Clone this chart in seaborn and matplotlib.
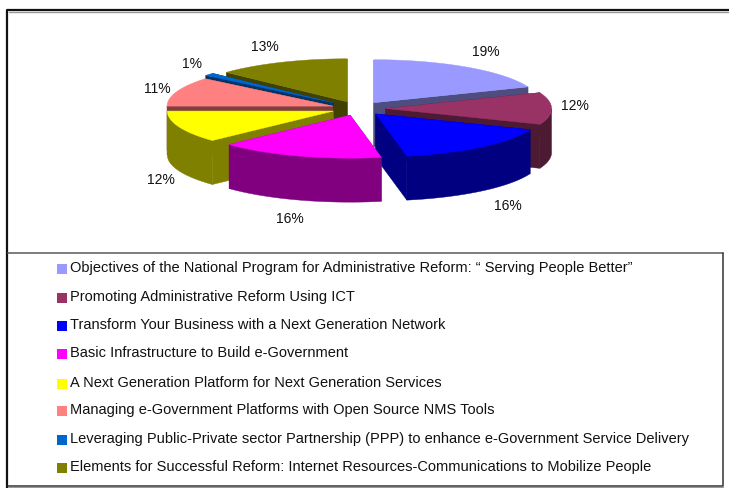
import numpy as np
import matplotlib
matplotlib.use("Agg")
import matplotlib.pyplot as plt
from matplotlib.patches import Polygon, Rectangle
import seaborn as sns

labels = [
    "Objectives of the National Program for Administrative Reform: \u201c Serving People Better\u201d",
    "Promoting Administrative Reform Using ICT",
    "Transform Your Business with a Next Generation Network",
    "Basic Infrastructure to Build e-Government",
    "A Next Generation Platform for Next Generation Services",
    "Managing e-Government Platforms with Open Source NMS Tools",
    "Leveraging Public-Private sector Partnership (PPP) to enhance e-Government Service Delivery",
    "Elements for Successful Reform: Internet Resources-Communications to Mobilize People",
]
shares = [19, 12, 16, 16, 12, 11, 1, 13]
top_colors = ["#9999ff", "#993366", "#0000ff", "#ff00ff", "#ffff00", "#ff8080", "#0066cc", "#808000"]
side_colors = ["#4d4d80", "#4d1a33", "#000080", "#800080", "#808000", "#804040", "#003366", "#404000"]
legend_y = [268, 297, 325, 353, 383, 410, 439, 467]

sns.set_theme(style="white")
plt.rcParams["font.family"] = ["Liberation Sans", "DejaVu Sans"]

# pie geometry, in pixels of the picture
cx, cy = 358.5, 108.5
rx, ry = 166, 43
explode = [0.163, 0.163, 0.163, 0.163, 0.163, 0.163, 0.2, 0.17]
depth = 44


def ell(c, a):
    a = np.radians(a)
    return np.column_stack([c[0] + rx * np.sin(a), c[1] - ry * np.cos(a)])


fig = plt.figure(figsize=(7.29, 4.88), dpi=100)
ax = fig.add_axes([0, 0, 1, 1])
ax.set_xlim(0, 729)
ax.set_ylim(488, 0)
ax.axis("off")

# frame
ax.plot([729, 7.5, 7.5], [10, 10, 488], color="#111111", lw=1.6, solid_capstyle="butt")
ax.plot([9, 729], [11.5, 11.5], color="#999999", lw=1)
ax.plot([8, 723], [253, 253], color="#666666", lw=1.2)
ax.plot([723, 723, 8], [253, 485.5, 485.5], color="#333333", lw=1.1)
ax.plot([8, 723], [487, 487], color="#999999", lw=0.8)

# slice angles, clockwise from twelve o'clock
ends = np.cumsum(shares) * 3.6
starts = ends - np.array(shares) * 3.6
slices = []
for i in range(len(shares)):
    mid = np.radians((starts[i] + ends[i]) / 2)
    c = (cx + explode[i] * rx * np.sin(mid), cy - explode[i] * ry * np.cos(mid))
    slices.append((i, c, starts[i], ends[i]))

# back to front
draw_order = [7, 6, 0, 5, 1, 4, 2, 3]
for z, i in enumerate(draw_order):
    _, c, a0, a1 = slices[i]
    low = np.array([0, depth])
    for a in (a0, a1):
        p = ell(c, a)[0]
        face = [c, p, p + low, np.array(c) + low]
        ax.add_patch(Polygon(face, color=side_colors[i], lw=0.3, zorder=2 + z))
    # only the front half of the rim shows
    f0, f1 = max(a0, 90), min(a1, 270)
    if f1 > f0:
        rim = ell(c, np.linspace(f0, f1, 60))
        ax.add_patch(Polygon(np.vstack([rim, rim[::-1] + low]), color=side_colors[i], lw=0.3, zorder=2 + z))
    arc = ell(c, np.linspace(a0, a1, 80))
    ax.add_patch(Polygon(np.vstack([[c], arc]), color=top_colors[i], lw=0.3, zorder=2 + z))

# percent labels
pct_x = [486, 575, 508, 290, 161, 157, 192, 265]
pct_y = [52, 106, 206, 219, 180, 89, 64, 47]
for s, x, y in zip(shares, pct_x, pct_y):
    ax.text(x, y, f"{s}%", ha="center", va="center", fontsize=10, color="#111111", zorder=20)

# legend
for lab, col, y in zip(labels, top_colors, legend_y):
    ax.add_patch(Rectangle((57, y - 4.5), 10, 10, color=col, lw=0))
    ax.text(70, y, lab, ha="left", va="center", fontsize=10.55, color="#111111")

fig.savefig("out.png", dpi=100, facecolor="white")
